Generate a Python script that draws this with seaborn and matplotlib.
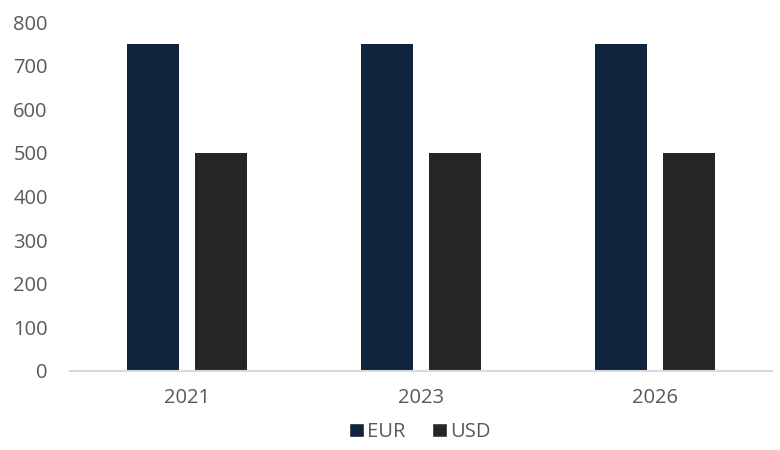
import matplotlib
matplotlib.use("Agg")
import matplotlib.pyplot as plt
import seaborn as sns
import pandas as pd

years = ["2021", "2023", "2026"]
eur = [750, 750, 750]
usd = [500, 500, 500]
series = ["EUR", "USD"]
colors = {"EUR": "#10243E", "USD": "#262626"}

df = pd.DataFrame({
    "year": years * 2,
    "value": eur + usd,
    "series": ["EUR"] * len(years) + ["USD"] * len(years),
})

sns.set_theme(style="white")
plt.rcParams['font.family'] = ['Open Sans', 'DejaVu Sans']

fig = plt.figure(figsize=(7.8, 4.5), dpi=100)
ax = fig.add_axes([70/780, 1 - 371/450, 702/780, (371 - 22)/450])

sns.barplot(data=df, x="year", y="value", hue="series", hue_order=series,
            palette=colors, width=0.573, gap=0.224, ax=ax, legend=False,
            saturation=1, linewidth=0)

ax.set_ylim(0, 800)
ax.set_xlim(-0.5, 2.5)
ax.set_yticks(range(0, 801, 100))
ax.set_xlabel("")
ax.set_ylabel("")
for s in ["top", "right", "left"]:
    ax.spines[s].set_visible(False)
ax.spines["bottom"].set_color("#D9D9D9")
ax.spines["bottom"].set_linewidth(1.5)
ax.tick_params(axis="both", length=0, labelsize=14.5, labelcolor="#595959")
ax.tick_params(axis="y", pad=16)
ax.tick_params(axis="x", pad=12)

from matplotlib.patches import Patch
handles = [Patch(facecolor=colors[s], label=s) for s in series]
fig.legend(handles=handles, loc="center", bbox_to_anchor=(0.538, 1 - 432/450),
           ncol=2, frameon=False, fontsize=14.5, labelcolor="#595959",
           handlelength=0.75, handleheight=0.75, handletextpad=0.15, columnspacing=1.3)

fig.savefig("out.png", dpi=100)
